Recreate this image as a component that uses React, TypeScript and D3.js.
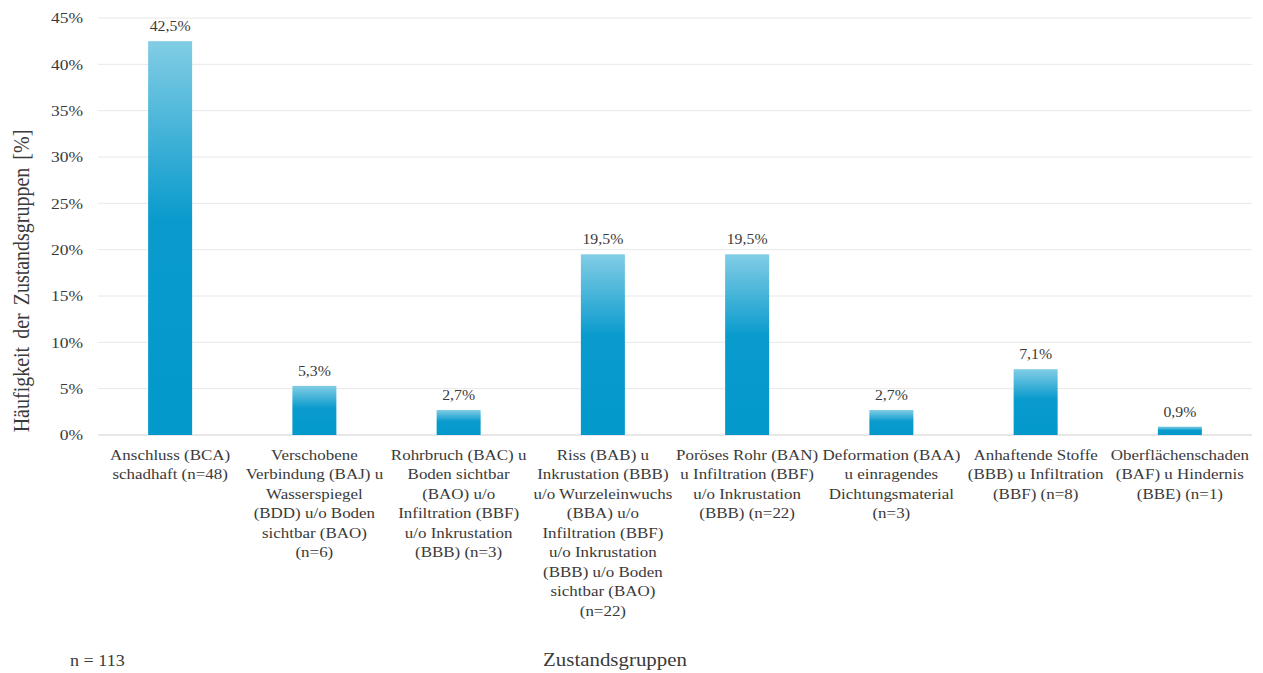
import React from "react";
import * as d3 from "d3";

const categories: string[][] = [
  ["Anschluss (BCA)", "schadhaft (n=48)"],
  ["Verschobene", "Verbindung (BAJ) u", "Wasserspiegel", "(BDD) u/o Boden", "sichtbar (BAO)", "(n=6)"],
  ["Rohrbruch (BAC) u", "Boden sichtbar", "(BAO) u/o", "Infiltration (BBF)", "u/o Inkrustation", "(BBB) (n=3)"],
  ["Riss (BAB) u", "Inkrustation (BBB)", "u/o Wurzeleinwuchs", "(BBA) u/o", "Infiltration (BBF)", "u/o Inkrustation", "(BBB) u/o Boden", "sichtbar (BAO)", "(n=22)"],
  ["Poröses Rohr (BAN)", "u Infiltration (BBF)", "u/o Inkrustation", "(BBB) (n=22)"],
  ["Deformation (BAA)", "u einragendes", "Dichtungsmaterial", "(n=3)"],
  ["Anhaftende Stoffe", "(BBB) u Infiltration", "(BBF) (n=8)"],
  ["Oberflächenschaden", "(BAF) u Hindernis", "(BBE) (n=1)"],
];
const values: number[] = [42.5, 5.3, 2.7, 19.5, 19.5, 2.7, 7.1, 0.9];
const yTicks: number[] = [0, 5, 10, 15, 20, 25, 30, 35, 40, 45];

const FONT = "'Liberation Serif', 'Times New Roman', serif";
const TXT = "#3a3a3a";
const SX = 1.13;

export default function App() {
  const W = 1263, H = 673;
  const left = 98, right = 1252, top = 18, bottom = 435;
  const x = d3.scaleBand<number>().domain(d3.range(values.length)).range([left, right]).paddingInner(0.695).paddingOuter(0.3475);
  const y = d3.scaleLinear().domain([0, 45]).range([bottom, top]);
  const fmt = (v: number) => v.toFixed(1).replace(".", ",") + "%";
  const cx = (i: number) => (x(i) as number) + x.bandwidth() / 2;

  return (
    <svg width={W} height={H} style={{ position: "absolute", left: 0, top: 0, background: "#fff" }}>
      <defs>
        <linearGradient id="barGrad" x1="0" y1="0" x2="0" y2="1">
          <stop offset="0" stopColor="#82cde5" />
          <stop offset="0.45" stopColor="#0a9bcd" />
          <stop offset="1" stopColor="#0399cb" />
        </linearGradient>
      </defs>
      {yTicks.map((t) => (
        <g key={t}>
          <line x1={left} x2={right} y1={y(t)} y2={y(t)} stroke={t === 0 ? "#d0d0d0" : "#e8e8e8"} strokeWidth={1} />
          <text transform={`translate(83,${y(t)}) scale(${SX},1)`} dy="0.35em" textAnchor="end" fontFamily={FONT} fontSize={15.5} fill={TXT}>{t}%</text>
        </g>
      ))}
      {values.map((v, i) => (
        <g key={i}>
          <rect x={x(i)} y={y(v)} width={x.bandwidth()} height={y(0) - y(v)} fill="url(#barGrad)" />
          <text transform={`translate(${cx(i)},${y(v) - 10}) scale(${SX},1)`} textAnchor="middle" fontFamily={FONT} fontSize={14} fill={TXT}>{fmt(v)}</text>
          <text transform={`translate(${cx(i)},460) scale(${SX},1)`} textAnchor="middle" fontFamily={FONT} fontSize={15} fill={TXT}>
            {categories[i].map((line, j) => (
              <tspan key={j} x={0} dy={j === 0 ? 0 : 19.5}>{line}</tspan>
            ))}
          </text>
        </g>
      ))}
      <text transform={`translate(29,281) rotate(-90) scale(1,${SX})`} textAnchor="middle" fontFamily={FONT} fontSize={20} fill={TXT} wordSpacing="3">Häufigkeit der Zustandsgruppen [%]</text>
      <text transform={`translate(615,666) scale(${SX},1)`} textAnchor="middle" fontFamily={FONT} fontSize={18.5} fill={TXT}>Zustandsgruppen</text>
      <text transform={`translate(70,666) scale(${SX},1)`} fontFamily={FONT} fontSize={16} fill={TXT}>n = 113</text>
    </svg>
  );
}
